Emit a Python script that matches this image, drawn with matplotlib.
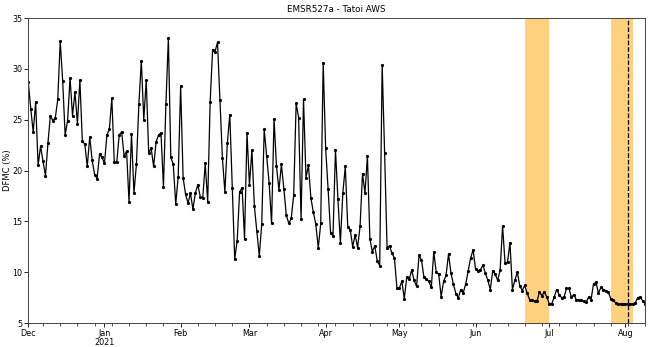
import matplotlib
matplotlib.use('Agg')
import matplotlib.pyplot as plt
import matplotlib.dates as mdates
import matplotlib.ticker as mticker
import pandas as pd

start_date = '2020-12-01'
dfmc = [
    28.7, 26.1, 23.8, 26.7, 20.5, 22.4, 20.9, 19.5, 22.7, 25.4,
    24.9, 25.2, 27.0, 32.7, 28.8, 23.5, 24.9, 29.1, 25.4, 27.7,
    24.6, 28.9, 22.9, 22.6, 20.4, 23.3, 21.0, 19.6, 19.2, 21.6,
    21.3, 20.7, 23.5, 24.1, 27.1, 20.8, 20.8, 23.5, 23.8, 21.4,
    21.9, 16.9, 23.6, 17.8, 20.6, 26.5, 30.8, 25.0, 28.9, 21.7,
    22.2, 20.4, 22.8, 23.5, 23.7, 18.4, 26.5, 33.0, 21.3, 20.6,
    16.7, 19.4, 28.3, 19.3, 17.65, 16.8, 17.75, 16.2, 17.8, 18.6,
    17.4, 17.3, 20.7, 16.9, 26.7, 31.9, 31.7, 32.6, 26.9, 21.2,
    17.9, 22.7, 25.5, 18.3, 11.3, 13.1, 17.9, 18.3, 13.3, 23.7,
    18.6, 22.0, 16.5, 14.1, 11.6, 14.75, 24.05, 21.4, 18.8, 14.8,
    25.1, 20.4, 18.1, 20.6, 18.2, 15.6, 14.8, 15.3, 17.6, 26.6,
    25.2, 15.2, 27.0, 19.3, 20.5, 17.3, 15.9, 14.7, 12.4, 14.8,
    30.6, 22.2, 18.2, 13.9, 13.6, 22.05, 17.2, 12.9, 17.8, 20.4,
    14.4, 14.2, 12.5, 13.7, 12.4, 14.5, 19.7, 17.8, 21.4, 13.3,
    12.0, 12.6, 11.1, 10.65, 30.4, 21.7, 12.4, 12.6, 11.85, 11.4,
    8.45, 8.45, 9.1, 7.4, 9.5, 9.3, 10.2, 9.2, 8.6, 11.65,
    11.2, 9.5, 9.3, 9.1, 8.5, 12.0, 10.0, 9.8, 7.6, 9.1,
    9.7, 11.8, 9.9, 8.8, 7.9, 7.5, 8.3, 8.0, 8.85, 10.1,
    11.4, 12.2, 10.3, 10.15, 10.25, 10.7, 9.9, 9.2, 8.3, 10.15,
    9.8, 9.2, 10.2, 14.55, 10.9, 11.0, 12.9, 8.3, 9.2, 10.0,
    8.65, 8.2, 8.7, 7.95, 7.3, 7.25, 7.15, 7.15, 8.05, 7.7,
    8.05, 7.55, 6.9, 6.9, 7.55, 8.3, 7.8, 7.5, 7.55, 8.4,
    8.4, 7.55, 7.8, 7.3, 7.3, 7.25, 7.15, 7.05, 7.55, 7.3,
    8.85, 9.0, 7.95, 8.5, 8.3, 8.2, 8.05, 7.4, 7.25, 7.0,
    6.9, 6.85, 6.85, 6.85, 6.85, 6.85, 6.9, 7.0, 7.5, 7.55,
    7.2, 6.9,
]
span_starts = ['2021-06-21', '2021-07-26']
span_ends = ['2021-07-01', '2021-08-04']
event_date = '2021-08-02'
title = 'EMSR527a - Tatoi AWS'
ylabel = 'DFMC (%)'

dates = pd.date_range(start_date, periods=len(dfmc), freq='D')

fig = plt.figure(figsize=(6.5, 3.47), dpi=100)
ax = fig.add_axes([0.0435, 0.069, 0.949, 0.879])

for s, e in zip(span_starts, span_ends):
    ax.axvspan(pd.Timestamp(s), pd.Timestamp(e), color='orange', alpha=0.5, lw=0, zorder=0)
ax.plot(dates, dfmc, color='black', marker='.', markersize=2.6, linewidth=0.9, zorder=2)
ax.axvline(pd.Timestamp(event_date), color='black', linestyle='--', linewidth=0.9, zorder=3)

ax.set_xlim(dates[0], dates[-1])
ax.set_ylim(5, 35)
ax.set_yticks([5, 10, 15, 20, 25, 30, 35])

ax.xaxis.set_major_locator(mdates.MonthLocator())
ax.xaxis.set_minor_locator(mdates.WeekdayLocator(byweekday=mdates.MO))


def fmt(x, pos=None):
    d = mdates.num2date(x)
    if d.month == 1:
        return d.strftime('%b') + '\n' + d.strftime('%Y')
    return d.strftime('%b')


ax.xaxis.set_major_formatter(mticker.FuncFormatter(fmt))

ax.tick_params(axis='both', which='major', labelsize=5.8, length=3, width=0.6, pad=1.2)
ax.tick_params(axis='x', which='minor', length=1.8, width=0.5)
for lbl in ax.get_xticklabels():
    lbl.set_linespacing(1.0)
for sp in ax.spines.values():
    sp.set_linewidth(0.7)
    sp.set_color('#444444')

ax.set_title(title, fontsize=6.3, pad=4)
ax.set_ylabel(ylabel, fontsize=6)
ax.yaxis.set_label_coords(-0.026, 0.5)

fig.savefig('out.png', dpi=100)
